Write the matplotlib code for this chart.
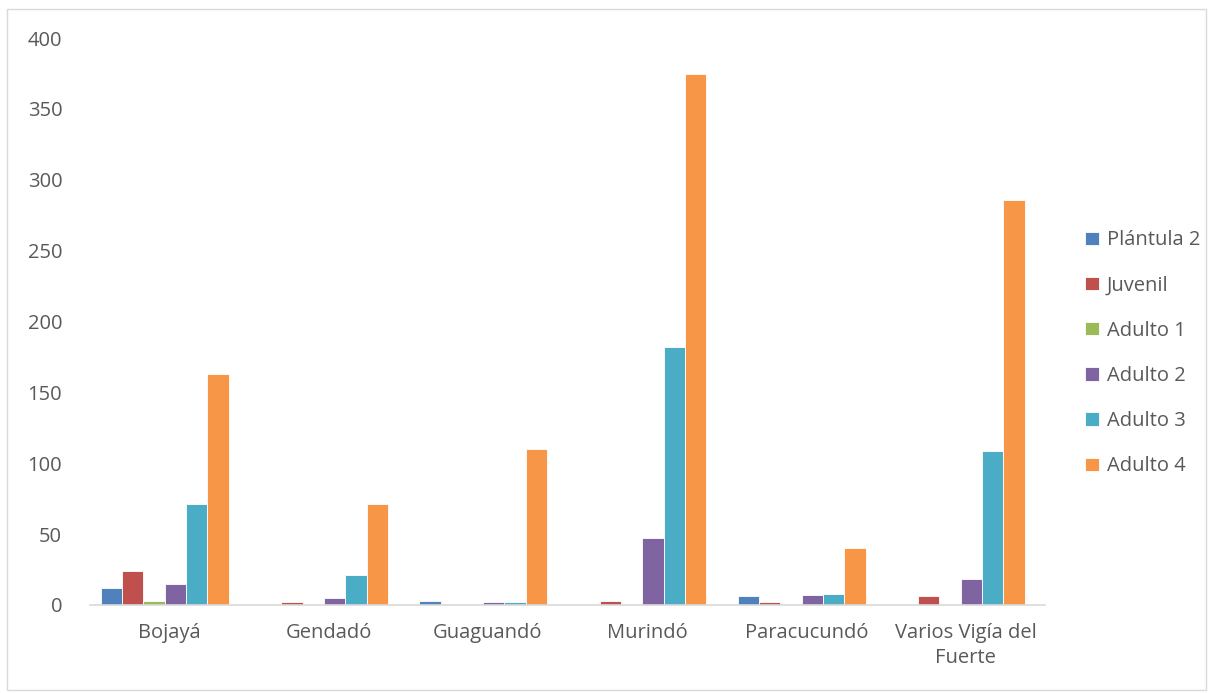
import numpy as np
import matplotlib.pyplot as plt
from matplotlib.patches import Rectangle

# datos
categorias = ["Bojayá", "Gendadó", "Guaguandó", "Murindó", "Paracucundó", "Varios Vigía del\nFuerte"]
series = ["Plántula 2", "Juvenil", "Adulto 1", "Adulto 2", "Adulto 3", "Adulto 4"]
plantula2 = [12, 0, 3, 0, 6, 0]
juvenil = [24, 2, 1, 3, 2, 6]
adulto1 = [3, 0, 1, 1, 0, 1]
adulto2 = [15, 5, 2, 47, 7, 18]
adulto3 = [71, 21, 2, 182, 8, 109]
adulto4 = [163, 71, 110, 375, 40, 286]
valores = [plantula2, juvenil, adulto1, adulto2, adulto3, adulto4]
colores = ["#4F81BD", "#C0504D", "#9BBB59", "#8064A2", "#4BACC6", "#F79646"]

plt.rcParams['font.family'] = ['Open Sans', 'DejaVu Sans']

fig = plt.figure(figsize=(12.11, 6.93), dpi=100)
ax = fig.add_axes([0.0743, 0.127, 0.7887, 0.818])

x = np.arange(len(categorias))
ancho = 0.134
desplaz = -0.03  # los grupos quedan un poco a la izquierda
for i, (nombre, v) in enumerate(zip(series, valores)):
    ax.bar(x + (i - 2.5) * ancho + desplaz, v, width=ancho, color=colores[i],
           edgecolor="white", linewidth=0.6, label=nombre)

ax.set_xlim(-0.5, len(categorias) - 0.5)
ax.set_ylim(0, 400)
ax.set_yticks(range(0, 401, 50))
ax.set_xticks(x)
ax.set_xticklabels(categorias, linespacing=1.3)

for lado in ["top", "right", "left"]:
    ax.spines[lado].set_visible(False)
ax.spines["bottom"].set_color("#D9D9D9")
ax.spines["bottom"].set_linewidth(1.2)
ax.tick_params(axis="both", length=0, labelsize=14.5, colors="#595959")
ax.tick_params(axis="x", pad=13)
ax.tick_params(axis="y", pad=20)

ax.legend(loc="center left", bbox_to_anchor=(0.888, 0.49), bbox_transform=fig.transFigure,
          frameon=False, fontsize=14.5, labelcolor="#595959", handlelength=0.65,
          handleheight=0.65, labelspacing=1.25, handletextpad=0.4, borderpad=0)

# borde del grafico
fig.patches.append(Rectangle((0.006, 0.005), 0.99, 0.982, transform=fig.transFigure,
                             fill=False, edgecolor="#D9D9D9", linewidth=1))

plt.savefig("out.png", dpi=100)
